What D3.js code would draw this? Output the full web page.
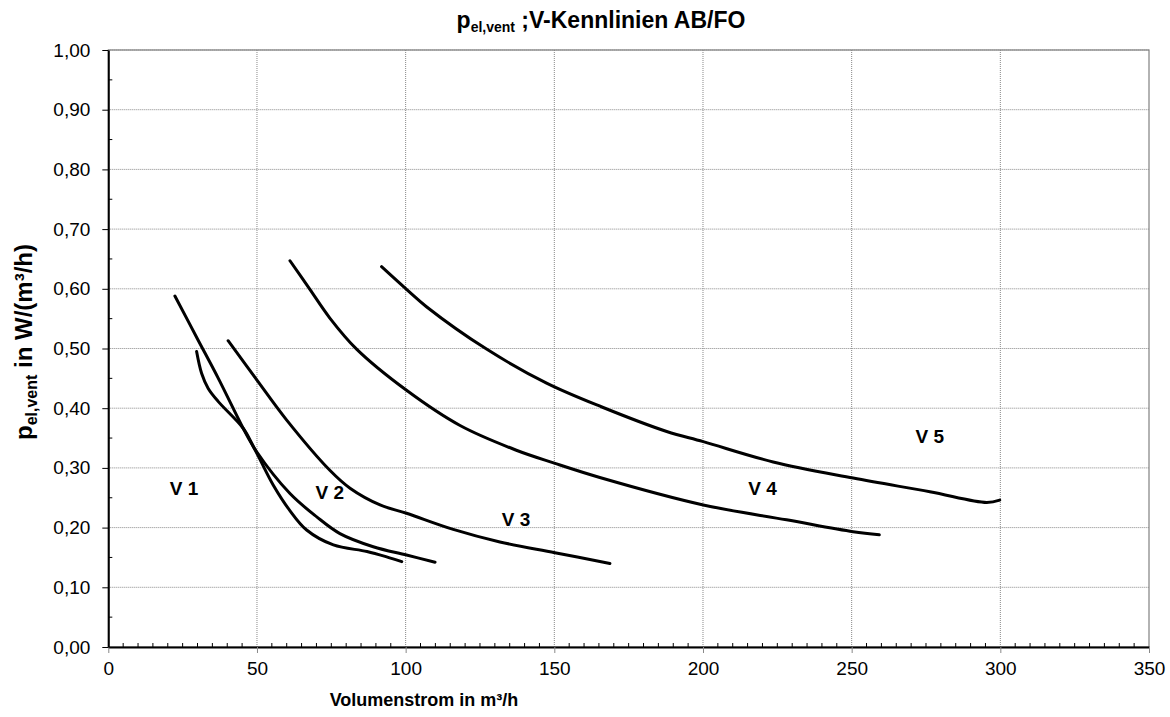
<!DOCTYPE html>
<html><head><meta charset="utf-8">
<script src="https://cdn.jsdelivr.net/npm/d3@7"></script>
<style>body{margin:0;background:#fff}svg{display:block;font-family:"Liberation Sans",Arial,sans-serif}</style>
</head><body>
<svg id="c" width="1170" height="717"></svg>
<script>
// Data (Volumenstrom m³/h, p_el,vent W/(m³/h))
const curveV1x = [22.4, 30, 37, 45.4, 50, 55.5, 61, 66.7, 75.7, 87, 93.6, 98.7];
const curveV1y = [0.588, 0.516, 0.450, 0.366, 0.324, 0.271, 0.229, 0.196, 0.171, 0.160, 0.151, 0.143];
const curveV2x = [29.7, 31.4, 33.6, 37, 45.4, 49.9, 61.1, 70.1, 77.9, 89.1, 100.3, 109.9];
const curveV2y = [0.495, 0.458, 0.433, 0.411, 0.366, 0.327, 0.257, 0.218, 0.190, 0.168, 0.154, 0.142];
const curveV3x = [40.3, 50, 60, 74.5, 81.3, 91.4, 100.3, 116, 131.7, 150.2, 168.7];
const curveV3y = [0.513, 0.447, 0.380, 0.296, 0.266, 0.238, 0.224, 0.197, 0.176, 0.158, 0.140];
const curveV4x = [61.1, 67.8, 74.5, 83.5, 100.3, 118.3, 137, 150, 165.3, 200.1, 228.1, 250.5, 259.3];
const curveV4y = [0.647, 0.599, 0.551, 0.499, 0.430, 0.371, 0.330, 0.308, 0.284, 0.238, 0.213, 0.193, 0.188];
const curveV5x = [91.9, 100.3, 107, 127.2, 147.4, 166, 187.8, 200.1, 223.6, 250.5, 276.3, 295.4, 299.8];
const curveV5y = [0.637, 0.599, 0.570, 0.499, 0.442, 0.402, 0.361, 0.344, 0.310, 0.283, 0.260, 0.242, 0.246];
const seriesNames = ["V 1", "V 2", "V 3", "V 4", "V 5"];
const labelX = [25.5, 74.5, 137.1, 220, 276.3];
const labelY = [0.2546, 0.248, 0.2027, 0.2546, 0.342];
const xTicks = [0, 50, 100, 150, 200, 250, 300, 350];
const yTicks = [0, 0.1, 0.2, 0.3, 0.4, 0.5, 0.6, 0.7, 0.8, 0.9, 1.0];

const svg = d3.select("#c");
const L = 108.3, R = 1149, T = 50, B = 647;
const x = d3.scaleLinear().domain([0, 350]).range([L, R]);
const y = d3.scaleLinear().domain([0, 1]).range([B, T]);
const fmt = v => d3.format(".2f")(v).replace(".", ",");

// gridlines
const g = svg.append("g");
g.selectAll(".gy").data(yTicks.slice(1)).join("line")
  .attr("x1", L).attr("x2", R).attr("y1", d => y(d)).attr("y2", d => y(d))
  .attr("stroke", "#888").attr("stroke-width", 1).attr("stroke-dasharray", "1,1");
g.selectAll(".gx").data(xTicks.slice(1, -1)).join("line")
  .attr("y1", T).attr("y2", B).attr("x1", d => x(d)).attr("x2", d => x(d))
  .attr("stroke", "#888").attr("stroke-width", 1).attr("stroke-dasharray", "1,1");
// plot border
svg.append("rect").attr("x", L).attr("y", T).attr("width", R - L).attr("height", B - T)
  .attr("fill", "none").attr("stroke", "#808080").attr("stroke-width", 1.2);

// minor ticks (inward)
const xMinor = d3.range(0, 351, 5).filter(v => v % 50 !== 0);
svg.append("g").selectAll("line").data(xMinor).join("line")
  .attr("x1", d => x(d)).attr("x2", d => x(d)).attr("y1", B).attr("y2", B - 4)
  .attr("stroke", "#000").attr("stroke-width", 1);
const yMinor = d3.range(0.05, 1, 0.1);
svg.append("g").selectAll("line").data(yMinor).join("line")
  .attr("x1", L).attr("x2", L + 4).attr("y1", d => y(d)).attr("y2", d => y(d))
  .attr("stroke", "#000").attr("stroke-width", 1);

// axes
const xAxis = svg.append("g").attr("transform", `translate(0,${B})`)
  .call(d3.axisBottom(x).tickValues(xTicks).tickFormat(d3.format("d")).tickSizeOuter(0).tickSizeInner(6).tickPadding(6));
const yAxis = svg.append("g").attr("transform", `translate(${L},0)`)
  .call(d3.axisLeft(y).tickValues(yTicks).tickFormat(fmt).tickSizeOuter(0).tickSizeInner(6).tickPadding(12));
[xAxis, yAxis].forEach(a => {
  a.select(".domain").attr("stroke", "#000").attr("stroke-width", 2);
  a.selectAll(".tick line").attr("stroke", "#000");
  a.selectAll("text").attr("font-size", 19).attr("fill", "#000").attr("font-family", '"Liberation Sans",Arial,sans-serif');
});
xAxis.selectAll("text").attr("dy", "0.85em");
xAxis.selectAll(".tick line").attr("stroke", "#888");

// curves
const xs = [curveV1x, curveV2x, curveV3x, curveV4x, curveV5x];
const ys = [curveV1y, curveV2y, curveV3y, curveV4y, curveV5y];
const line = d3.line().x(d => x(d[0])).y(d => y(d[1])).curve(d3.curveCatmullRom.alpha(0.5));
xs.forEach((xv, i) => {
  const pts = xv.map((v, j) => [v, ys[i][j]]);
  svg.append("path").attr("d", line(pts)).attr("fill", "none")
    .attr("stroke", "#000").attr("stroke-width", 3).attr("stroke-linecap", "round").attr("stroke-linejoin", "round");
});

// series labels
svg.append("g").selectAll("text").data(seriesNames).join("text")
  .attr("x", (d, i) => x(labelX[i])).attr("y", (d, i) => y(labelY[i]))
  .attr("text-anchor", "middle").attr("font-weight", "bold").attr("font-size", 19).text(d => d);

// title
const title = svg.append("text").attr("x", 601).attr("y", 28).attr("text-anchor", "middle")
  .attr("font-weight", "bold").attr("font-size", 23);
title.append("tspan").text("p");
title.append("tspan").attr("font-size", 14).attr("dy", 4).text("el,vent");
title.append("tspan").attr("dy", -4).text(" ;V-Kennlinien AB/FO");

// y label
const yl = svg.append("text").attr("transform", "translate(32,342) rotate(-90)").attr("text-anchor", "middle")
  .attr("font-weight", "bold").attr("font-size", 24);
yl.append("tspan").text("p");
yl.append("tspan").attr("font-size", 16).attr("dy", 5).text("el,vent");
yl.append("tspan").attr("dy", -5).text(" in W/(m³/h)");

// x label
svg.append("text").attr("x", 424).attr("y", 706).attr("text-anchor", "middle")
  .attr("font-weight", "bold").attr("font-size", 18).text("Volumenstrom in m³/h");
</script>
</body></html>
